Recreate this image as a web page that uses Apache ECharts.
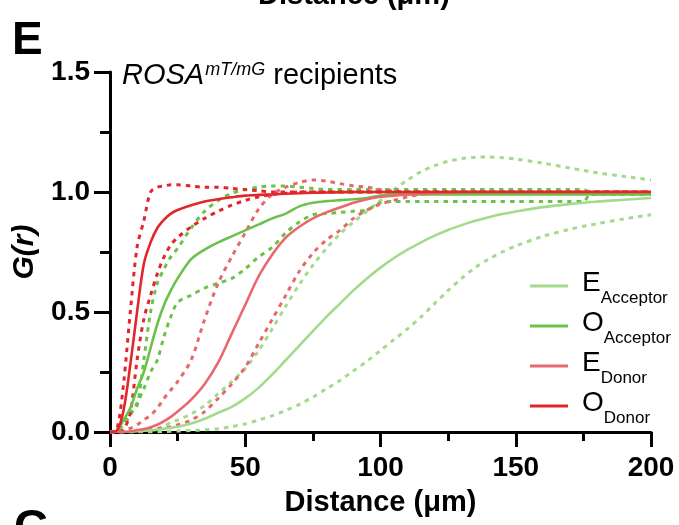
<!DOCTYPE html>
<html>
<head>
<meta charset="utf-8">
<title>G(r) ROSA recipients</title>
<script type="text/javascript" src="https://cdn.jsdelivr.net/npm/echarts@6/dist/echarts.min.js"></script>
<style>
  html, body { margin: 0; padding: 0; background: #fff; }
  #container { width: 679px; height: 525px; }
</style>
</head>
<body>
<div id="container"></div>
<script type="text/javascript">
// distance (µm), shared by every curve
var dist = [0, 2.5, 5, 7.5, 10, 12.5, 15, 17.5, 20, 22.5, 25, 30, 35, 40, 45, 50, 55, 60, 65, 70,
            75, 80, 85, 90, 95, 100, 105, 110, 115, 120, 125, 130, 135, 140, 145, 150, 160, 170,
            175, 177.5, 180, 190, 200];

// solid = observed, dashed = envelope bounds
var oDonor      = [0, 0.005, 0.09, 0.28, 0.5, 0.7, 0.79, 0.85, 0.885, 0.91, 0.925, 0.945, 0.96, 0.97, 0.978, 0.985, 0.988, 0.99, 0.993, 0.995,
                   0.997, 0.998, 0.999, 1, 1, 1, 1, 1, 1, 1, 1, 1, 1, 1, 1, 1, 1, 1, 1, 1, 1, 1, 1];
var oDonorHi    = [0, 0.01, 0.2, 0.5, 0.77, 0.88, 1.0, 1.02, 1.025, 1.03, 1.03, 1.025, 1.02, 1.02, 1.015, 1.01, 1.005, 1.0, 1.0, 1.0,
                   1, 1, 1, 1, 1, 1, 1, 1, 1, 1, 1, 1, 1, 1, 1, 1, 1, 1, 1, 1, 1, 1, 1];
var oDonorLo    = [0, 0, 0.01, 0.08, 0.3, 0.47, 0.57, 0.66, 0.73, 0.78, 0.81, 0.855, 0.89, 0.92, 0.945, 0.965, 0.98, 0.99, 0.995, 1,
                   1, 1, 1, 1, 1, 1, 1, 1, 1, 1, 1, 1, 1, 1, 1, 1, 1, 1, 1, 1, 1, 1, 1];

var oAcc        = [0, 0.005, 0.05, 0.1, 0.18, 0.25, 0.35, 0.45, 0.53, 0.59, 0.64, 0.72, 0.76, 0.79, 0.815, 0.84, 0.865, 0.89, 0.91, 0.94,
                   0.955, 0.962, 0.966, 0.97, 0.975, 0.985, 0.99, 0.99, 0.99, 0.99, 0.99, 0.99, 0.99, 0.99, 0.99, 0.99, 0.99, 0.99,
                   0.99, 0.99, 0.99, 0.99, 0.99];
var oAccHi      = [0, 0.005, 0.04, 0.08, 0.11, 0.3, 0.5, 0.62, 0.68, 0.73, 0.765, 0.85, 0.92, 0.965, 0.995, 1.01, 1.02, 1.025, 1.025, 1.02,
                   1.015, 1.01, 1.01, 1.01, 1.01, 1.01, 1.01, 1.01, 1.01, 1.01, 1.01, 1.01, 1.01, 1.01, 1.01, 1.01, 1.01, 1.01,
                   1.01, 1.0, 1.0, 1.0, 1.0];
var oAccLo      = [0, 0.005, 0.03, 0.07, 0.12, 0.18, 0.25, 0.3, 0.4, 0.48, 0.54, 0.57, 0.6, 0.62, 0.64, 0.68, 0.73, 0.77, 0.83, 0.875,
                   0.905, 0.91, 0.915, 0.92, 0.925, 0.955, 0.96, 0.96, 0.96, 0.96, 0.96, 0.96, 0.96, 0.96, 0.96, 0.96, 0.96, 0.96,
                   0.96, 0.99, 0.99, 0.99, 0.99];

var eDonor      = [0, 0, 0, 0.002, 0.008, 0.012, 0.02, 0.03, 0.045, 0.063, 0.085, 0.135, 0.2, 0.29, 0.41, 0.53, 0.65, 0.74, 0.81, 0.855,
                   0.89, 0.915, 0.935, 0.955, 0.97, 0.98, 0.985, 0.99, 0.993, 0.995, 0.997, 1, 1, 1, 1, 1, 1, 1, 1, 1, 1, 1, 1];
var eDonorHi    = [0, 0, 0.005, 0.015, 0.03, 0.05, 0.07, 0.1, 0.14, 0.175, 0.21, 0.3, 0.47, 0.62, 0.73, 0.83, 0.93, 0.99, 1.02, 1.04,
                   1.05, 1.045, 1.035, 1.025, 1.02, 1.01, 1.005, 1.0, 1, 1, 1, 1, 1, 1, 1, 1, 1, 1, 1, 1, 1, 1, 1];
var eDonorLo    = [0, 0, 0, 0.001, 0.003, 0.006, 0.01, 0.013, 0.017, 0.022, 0.03, 0.05, 0.085, 0.14, 0.2, 0.27, 0.37, 0.47, 0.57, 0.67,
                   0.745, 0.8, 0.84, 0.89, 0.925, 0.95, 0.965, 0.98, 0.99, 0.995, 1, 1, 1, 1, 1, 1, 1, 1, 1, 1, 1, 1, 1];

var eAcc        = [0, 0, 0, 0.001, 0.003, 0.005, 0.007, 0.01, 0.014, 0.018, 0.022, 0.035, 0.055, 0.08, 0.105, 0.14, 0.185, 0.24, 0.3, 0.36,
                   0.42, 0.48, 0.535, 0.59, 0.64, 0.685, 0.725, 0.76, 0.79, 0.818, 0.842, 0.862, 0.88, 0.895, 0.908, 0.919, 0.937, 0.95,
                   0.955, 0.958, 0.96, 0.968, 0.975];
var eAccHi      = [0, 0, 0, 0.001, 0.002, 0.004, 0.01, 0.015, 0.025, 0.04, 0.05, 0.075, 0.11, 0.16, 0.21, 0.265, 0.34, 0.43, 0.525, 0.615,
                   0.695, 0.765, 0.825, 0.875, 0.92, 0.965, 1.01, 1.05, 1.085, 1.11, 1.128, 1.139, 1.145, 1.146, 1.143, 1.137, 1.12, 1.1,
                   1.09, 1.085, 1.08, 1.065, 1.05];
var eAccLo      = [0, 0, 0, 0, 0, 0, 0, 0.001, 0.002, 0.003, 0.004, 0.006, 0.009, 0.014, 0.022, 0.034, 0.05, 0.068, 0.09, 0.115,
                   0.145, 0.18, 0.215, 0.255, 0.295, 0.34, 0.385, 0.43, 0.48, 0.535, 0.59, 0.64, 0.685, 0.72, 0.75, 0.775, 0.815, 0.845,
                   0.857, 0.862, 0.868, 0.888, 0.905];

var xTicks = [0, 50, 100, 150, 200];
var yTicks = [0, 0.5, 1.0, 1.5];

var cEAcc = '#a3db8c', cOAcc = '#6bc24a', cEDon = '#e8696d', cODon = '#e3262b';
var FONT = "'Liberation Sans', Arial, sans-serif";

function pairs(ys) {
  return dist.map(function (d, i) { return [d, ys[i]]; });
}

function mk(name, ys, color, dashed) {
  return {
    name: name,
    type: 'line',
    data: pairs(ys),
    showSymbol: false,
    smooth: 0.3,
    silent: true,
    color: color,
    lineStyle: { color: color, width: dashed ? 3 : 2.6, type: dashed ? [4.5, 5] : 'solid', cap: 'butt' }
  };
}

var dom = document.getElementById('container');
var myChart = echarts.init(dom, null, { renderer: 'canvas' });

var option = {
  animation: false,
  backgroundColor: '#fff',
  textStyle: { fontFamily: FONT },
  grid: { left: 110, right: 28, top: 72, bottom: 93, containLabel: false },
  title: {
    left: 122, top: 61, padding: 0,
    text: '{i|ROSA}{s|mT/mG}{n| recipients}',
    textStyle: {
      fontWeight: 'normal',
      rich: {
        i: { fontFamily: FONT, fontSize: 29, fontStyle: 'italic', fontWeight: 'normal', color: '#000' },
        s: { fontFamily: FONT, fontSize: 18, fontStyle: 'italic', fontWeight: 'normal', color: '#000', padding: [0, 0, 11, 1] },
        n: { fontFamily: FONT, fontSize: 29, fontWeight: 'normal', color: '#000' }
      }
    }
  },
  legend: {
    orient: 'vertical',
    left: 530, top: 263,
    padding: 0,
    itemGap: -6,
    itemWidth: 38, itemHeight: 3,
    icon: 'rect',
    data: ['EAcceptor', 'OAcceptor', 'EDonor', 'ODonor'],
    formatter: function (n) { return '{m|' + n.charAt(0) + '}{s|' + n.slice(1) + '}'; },
    textStyle: {
      rich: {
        m: { fontFamily: FONT, fontSize: 28, lineHeight: 28, color: '#000', padding: [6, 0, 12, 9] },
        s: { fontFamily: FONT, fontSize: 17, lineHeight: 17, color: '#000', padding: [24, 0, 0, 0] }
      }
    }
  },
  xAxis: {
    type: 'value', min: 0, max: 200, interval: 50,
    name: 'Distance (μm)', nameLocation: 'middle', nameGap: 56,
    nameTextStyle: { fontFamily: FONT, fontSize: 29, fontWeight: 'bold', color: '#000' },
    axisLine: { lineStyle: { color: '#000', width: 3 } },
    axisTick: { show: true, length: 15, lineStyle: { color: '#000', width: 3 } },
    minorTick: { show: true, splitNumber: 2, length: 9, lineStyle: { color: '#000', width: 3 } },
    splitLine: { show: false },
    axisLabel: {
      fontFamily: FONT, fontSize: 28, fontWeight: 'bold', color: '#000', margin: 22,
      formatter: function (v) { return xTicks.indexOf(v) >= 0 ? String(v) : ''; }
    }
  },
  yAxis: {
    type: 'value', min: 0, max: 1.5, interval: 0.5,
    name: 'G(r)', nameLocation: 'middle', nameGap: 66, nameRotate: 90,
    nameTextStyle: { fontFamily: FONT, fontSize: 30, fontWeight: 'bold', fontStyle: 'italic', color: '#000' },
    axisLine: { show: true, lineStyle: { color: '#000', width: 3 } },
    axisTick: { show: true, length: 16, lineStyle: { color: '#000', width: 3 } },
    minorTick: { show: true, splitNumber: 2, length: 10, lineStyle: { color: '#000', width: 3 } },
    splitLine: { show: false },
    axisLabel: {
      fontFamily: FONT, fontSize: 28, fontWeight: 'bold', color: '#000', margin: 20,
      formatter: function (v) { return yTicks.indexOf(v) >= 0 ? v.toFixed(1) : ''; }
    }
  },
  graphic: [
    { type: 'text', left: 12, top: 18, style: { text: 'E', font: 'bold 46px ' + FONT, fill: '#000' } },
    { type: 'text', left: 258, top: -19, style: { text: 'Distance (μm)', font: 'bold 29px ' + FONT, fill: '#000' } },
    { type: 'text', left: 14, top: 506, style: { text: 'G', font: 'bold 46px ' + FONT, fill: '#000' } }
  ],
  series: [
    mk('eAccLo', eAccLo, cEAcc, true),
    mk('eAccHi', eAccHi, cEAcc, true),
    mk('oAccLo', oAccLo, cOAcc, true),
    mk('oAccHi', oAccHi, cOAcc, true),
    mk('eDonLo', eDonorLo, cEDon, true),
    mk('eDonHi', eDonorHi, cEDon, true),
    mk('oDonLo', oDonorLo, cODon, true),
    mk('oDonHi', oDonorHi, cODon, true),
    mk('EAcceptor', eAcc, cEAcc, false),
    mk('OAcceptor', oAcc, cOAcc, false),
    mk('EDonor', eDonor, cEDon, false),
    mk('ODonor', oDonor, cODon, false)
  ]
};

myChart.setOption(option, true);
</script>
</body>
</html>
